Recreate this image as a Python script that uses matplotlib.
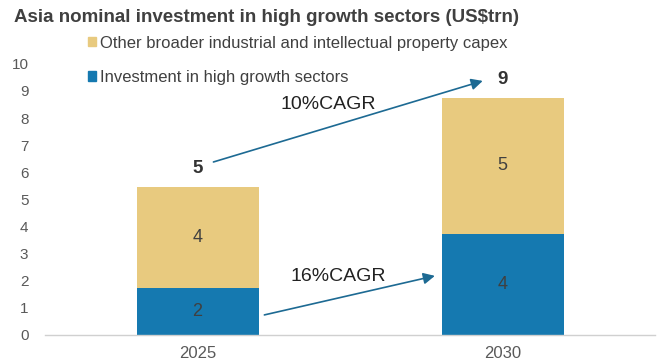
import matplotlib
matplotlib.use("Agg")
import matplotlib.pyplot as plt
from matplotlib.patches import Patch

plt.rcParams['font.family'] = ['Liberation Sans', 'DejaVu Sans']

years = ["2025", "2030"]
high_growth = [1.72, 3.73]
other_capex = [3.74, 5.02]
totals = [h + o for h, o in zip(high_growth, other_capex)]
cagr_labels = ["10%CAGR", "16%CAGR"]
yticks = list(range(0, 11))

BLUE = "#1579b0"
TAN = "#e8ca7f"
ARROW = "#1d6a93"
TEXT = "#404040"
TICK = "#595959"

fig = plt.figure(figsize=(6.63, 3.64), dpi=100)
ax = fig.add_axes([0.068, 0.0797, 0.92, 0.745])

x = list(range(len(years)))
w = 0.4
ax.bar(x, high_growth, width=w, color=BLUE, zorder=2)
ax.bar(x, other_capex, width=w, bottom=high_growth, color=TAN, zorder=2)

for xi, h, o, t in zip(x, high_growth, other_capex, totals):
    ax.text(xi, h / 2, f"{h:.0f}", ha="center", va="center", fontsize=13, color=TEXT)
    ax.text(xi, h + o / 2, f"{o:.0f}", ha="center", va="center", fontsize=13, color=TEXT)
    ax.text(xi, t + 0.68, f"{t:.0f}", ha="center", va="center", fontsize=13.5,
            fontweight="bold", color="#333333")

# growth arrows between the two years
arrow_style = dict(arrowstyle="-|>", color=ARROW, lw=1.2, mutation_scale=17,
                   shrinkA=0, shrinkB=0)
ax.annotate("", xy=(0.935, 9.37), xytext=(0.052, 6.38), arrowprops=arrow_style)
ax.annotate("", xy=(0.778, 2.18), xytext=(0.219, 0.74), arrowprops=arrow_style)
ax.text(0.428, 8.49, cagr_labels[0], ha="center", va="center", fontsize=14, color="#222222")
ax.text(0.461, 2.14, cagr_labels[1], ha="center", va="center", fontsize=14, color="#222222")

ax.set_xlim(-0.5, 1.5)
ax.set_ylim(0, 10)
ax.set_xticks(x)
ax.set_xticklabels(years)
ax.set_yticks(yticks)
ax.tick_params(axis="both", length=0, labelsize=11, labelcolor=TICK)
ax.tick_params(axis="y", pad=12)
ax.tick_params(axis="x", pad=8, labelsize=12)
for s in ["top", "right", "left"]:
    ax.spines[s].set_visible(False)
ax.spines["bottom"].set_color("#d0d0d0")
ax.spines["bottom"].set_linewidth(1.0)

handles = [Patch(color=TAN), Patch(color=BLUE)]
labels = ["Other broader industrial and intellectual property capex",
          "Investment in high growth sectors"]
fig.legend(handles, labels, loc="upper left", bbox_to_anchor=(0.12, 0.925),
           frameon=False, fontsize=12, handlelength=0.5, handleheight=0.5,
           handletextpad=0.25, labelspacing=1.15, labelcolor=TEXT, borderpad=0)

fig.text(0.021, 0.953, "Asia nominal investment in high growth sectors (US$trn)",
         ha="left", va="center", fontsize=13.5, fontweight="bold", color=TEXT)

fig.savefig("out.png", dpi=100)
